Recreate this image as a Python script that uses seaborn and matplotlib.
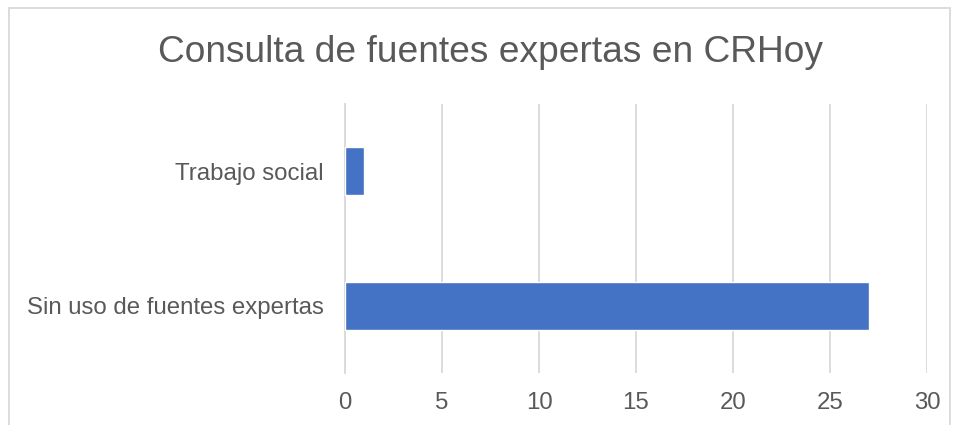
import matplotlib
matplotlib.use("Agg")
import matplotlib.pyplot as plt
import matplotlib.patches as mpatches
import pandas as pd
import seaborn as sns

# ── data ──────────────────────────────────────────────────────────────────────
categories = ["Trabajo social", "Sin uso de fuentes expertas"]
counts = [1, 27]
x_ticks = [0, 5, 10, 15, 20, 25, 30]

BLUE = "#4472C4"
GRID = "#D9D9D9"
TEXT = "#595959"

sns.set_theme(style="white")
plt.rcParams["font.family"] = ["Liberation Sans", "DejaVu Sans"]

df = pd.DataFrame({"categoria": categories, "n": counts})

W, H = 956, 425
fig = plt.figure(figsize=(W / 100, H / 100), dpi=100)
fig.patch.set_facecolor("white")

# axes in pixel coordinates: x 345..927, y 104..373
ax = fig.add_axes([345 / W, 1 - 373 / H, (927 - 345) / W, (373 - 104) / H])

sns.barplot(data=df, x="n", y="categoria", color=BLUE, width=0.36,
            saturation=1, ax=ax, zorder=3)

ax.set_xlim(0, 30)
ax.set_xticks(x_ticks)
ax.grid(axis="x", color=GRID, linewidth=1.3, zorder=0)
ax.grid(axis="y", visible=False)
for side in ["top", "right", "bottom"]:
    ax.spines[side].set_visible(False)
ax.spines["left"].set_color(GRID)
ax.spines["left"].set_linewidth(1.3)
ax.set_xlabel("")
ax.set_ylabel("")
ax.tick_params(axis="x", length=0, pad=14, labelsize=17.3, labelcolor=TEXT)
ax.tick_params(axis="y", length=0, pad=15.5, labelsize=17.3, labelcolor=TEXT)

fig.text(491 / W, 1 - 53 / H, "Consulta de fuentes expertas en CRHoy",
         ha="center", va="center", fontsize=26.7, color=TEXT)

# chart border (bottom edge is cropped off in the reference)
fig.patches.append(mpatches.Rectangle((9 / W, -0.05), (950 - 9) / W, 1.05 - 8 / H,
                                      transform=fig.transFigure, fill=False,
                                      edgecolor=GRID, linewidth=1.3))

fig.savefig("out.png", dpi=100, facecolor="white")
